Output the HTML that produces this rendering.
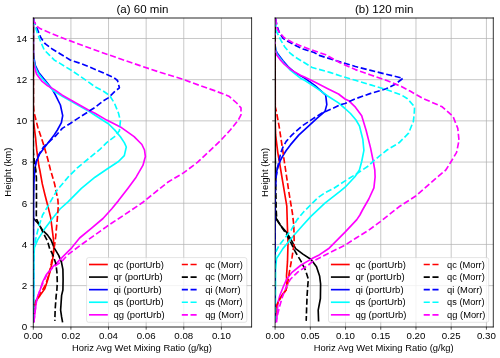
<!DOCTYPE html>
<html><head><meta charset="utf-8"><style>
html,body{margin:0;padding:0;background:#fff;}
svg{display:block;}
text{font-family:"Liberation Sans",sans-serif;fill:#000;}
svg{will-change:transform;}
</style></head><body>
<svg width="500" height="358" viewBox="0 0 500 358">
<rect width="500" height="358" fill="#fff"/>
<path d="M70.92 17.90V326.80M108.54 17.90V326.80M146.16 17.90V326.80M183.77 17.90V326.80M221.39 17.90V326.80M33.30 285.61H251.60M33.30 244.43H251.60M33.30 203.24H251.60M33.30 162.05H251.60M33.30 120.87H251.60M33.30 79.68H251.60M33.30 38.49H251.60" stroke="#b0b0b0" stroke-width="0.7" fill="none"/>
<clipPath id="c33"><rect x="33.30" y="17.90" width="218.30" height="308.90"/></clipPath>
<g fill="none" stroke-width="1.65" stroke-linejoin="round" stroke-linecap="butt" clip-path="url(#c33)">
<polyline points="33.3,18.0 33.3,115.0 33.8,123.4 35.5,137.0 36.8,150.7 38.9,166.0 39.8,170.0 42.3,183.9 45.0,195.0 47.6,205.0 50.7,217.6 52.6,232.6 53.5,240.0 53.8,251.2 52.4,261.0 50.3,270.8 47.5,280.6 44.8,288.7 40.1,295.4 36.1,300.8 34.0,307.5 33.5,315.0 33.5,322.3" stroke="#ff0000"/>
<polyline points="33.3,18.0 33.3,218.0 34.4,219.4 37.5,222.6 42.6,230.1 47.6,235.1 51.0,240.0 54.5,248.4 58.7,255.4 61.5,262.4 62.9,269.4 63.1,279.2 62.9,290.0 61.6,295.4 60.6,310.2 61.6,316.9 62.6,322.3" stroke="#000000"/>
<polyline points="33.3,18.0 33.3,50.0 33.7,56.7 35.4,65.7 38.7,72.4 43.2,78.0 47.7,83.6 52.2,89.2 55.5,95.2 60.4,105.0 62.7,115.7 61.4,122.6 57.4,130.0 53.4,136.1 45.6,145.9 39.8,153.7 35.9,162.4 34.9,169.9 34.0,180.0 33.5,200.0 33.5,322.3" stroke="#0000ff"/>
<polyline points="33.3,18.0 33.3,55.0 33.7,60.0 35.2,67.0 38.3,73.5 42.7,79.0 47.7,84.6 53.0,90.5 62.3,96.2 76.0,104.0 89.7,111.8 95.0,115.2 108.7,124.0 114.6,129.9 120.4,136.7 124.3,142.6 126.3,147.0 124.3,155.6 118.5,161.5 106.7,169.3 95.0,177.2 81.4,188.4 68.0,201.8 60.0,209.0 51.3,220.1 43.8,230.1 37.5,240.1 34.4,247.7 33.8,260.0 33.5,322.3" stroke="#00ffff"/>
<polyline points="33.3,18.0 33.3,60.0 33.7,64.6 36.5,74.1 42.1,81.4 47.7,85.8 54.4,89.6 62.3,95.2 76.0,103.0 89.7,110.8 95.0,113.2 106.7,120.1 120.4,126.9 134.1,136.7 141.9,144.5 144.5,150.0 145.4,156.6 142.9,165.4 136.1,177.2 128.2,187.9 118.5,200.6 111.8,208.7 103.0,218.5 91.3,228.3 79.6,238.0 71.7,247.8 63.9,255.7 55.9,263.8 51.0,268.7 46.1,275.0 42.6,282.0 40.1,290.0 36.7,299.4 35.4,308.8 34.0,320.9 33.8,322.3" stroke="#ff00ff"/>
<polyline points="33.3,18.0 33.3,105.0 33.9,111.7 37.8,127.3 43.7,144.9 47.6,158.5 50.5,169.9 54.6,183.9 57.9,200.0 58.3,206.2 57.2,220.0 55.7,236.4 54.6,245.0 52.9,253.4 51.3,263.4 48.8,275.2 45.4,285.2 40.4,293.6 35.4,302.0 33.8,310.0 33.5,322.3" stroke="#ff0000" stroke-dasharray="6.1 2.65"/>
<polyline points="33.3,18.0 33.3,152.0 34.5,163.0 35.8,170.0 36.4,178.0 36.5,200.0 36.3,215.0 36.8,219.5 38.8,223.8 43.8,233.9 47.6,241.4 49.6,248.4 53.1,255.4 55.9,263.8 56.9,272.2 57.3,282.0 56.9,290.0 56.2,295.4 55.2,308.8 54.8,320.9" stroke="#000000" stroke-dasharray="6.1 2.65"/>
<polyline points="33.5,19.0 34.2,21.9 36.7,27.7 40.9,37.8 45.1,43.7 51.8,48.7 60.0,53.7 70.2,60.0 81.9,63.9 103.0,72.7 113.8,77.5 117.5,80.5 119.4,87.8 114.6,91.7 108.7,97.6 103.0,101.0 95.0,107.4 89.7,110.8 76.0,119.6 70.2,123.5 62.3,128.4 55.4,136.1 43.7,146.8 38.8,154.6 36.5,161.0 34.5,168.0 33.5,176.0 33.3,190.0 33.3,322.3" stroke="#0000ff" stroke-dasharray="6.1 2.65"/>
<polyline points="33.5,19.0 34.2,22.7 37.5,33.6 41.5,43.7 44.3,50.0 49.9,55.6 54.4,60.1 60.0,63.4 72.1,70.8 87.8,81.5 95.0,86.8 102.8,90.8 109.7,95.6 114.6,103.5 118.5,113.2 120.4,121.1 119.4,130.8 114.6,136.7 106.7,142.6 99.9,149.4 90.4,157.1 77.0,168.2 68.0,177.2 56.8,190.6 47.9,206.2 42.6,215.0 38.8,226.3 36.3,236.4 34.4,245.2 33.5,255.0 33.5,322.3" stroke="#00ffff" stroke-dasharray="6.1 2.65"/>
<polyline points="33.5,18.5 33.7,20.7 36.7,26.0 40.0,28.6 60.0,37.0 80.0,44.5 100.0,51.8 120.0,58.8 140.0,65.6 160.0,72.3 182.0,79.0 199.6,85.4 215.2,90.9 228.9,96.2 236.7,103.0 241.0,107.9 241.0,114.8 238.3,120.0 230.5,129.8 220.7,140.5 210.0,150.6 197.4,162.4 183.5,172.9 168.1,182.0 154.2,193.1 142.2,202.8 124.6,214.6 107.0,226.3 93.3,236.1 79.6,245.9 67.8,254.7 62.2,261.0 55.2,265.9 51.0,269.4 46.8,275.0 43.3,282.0 40.1,290.0 36.7,299.4 35.4,308.8 34.0,320.9 34.0,322.3" stroke="#ff00ff" stroke-dasharray="6.1 2.65"/>
</g>
<path d="M33.30 17.40V327.30" stroke="#000" stroke-width="0.8" fill="none"/>
<path d="M251.60 17.40V327.30" stroke="#000" stroke-width="0.8" fill="none"/>
<path d="M32.90 18.0H252.00" stroke="#000" stroke-width="0.85" fill="none"/>
<path d="M32.90 327.0H252.00" stroke="#000" stroke-width="0.85" fill="none"/>
<path d="M33.30 326.80v2.9M70.92 326.80v2.9M108.54 326.80v2.9M146.16 326.80v2.9M183.77 326.80v2.9M221.39 326.80v2.9M33.30 326.80h-2.9M33.30 285.61h-2.9M33.30 244.43h-2.9M33.30 203.24h-2.9M33.30 162.05h-2.9M33.30 120.87h-2.9M33.30 79.68h-2.9M33.30 38.49h-2.9" stroke="#000" stroke-width="0.66" fill="none"/>
<text x="33.30" y="339.35" font-size="9.20" text-anchor="middle" textLength="18.92" lengthAdjust="spacingAndGlyphs">0.00</text>
<text x="70.92" y="339.35" font-size="9.20" text-anchor="middle" textLength="18.92" lengthAdjust="spacingAndGlyphs">0.02</text>
<text x="108.54" y="339.35" font-size="9.20" text-anchor="middle" textLength="18.92" lengthAdjust="spacingAndGlyphs">0.04</text>
<text x="146.16" y="339.35" font-size="9.20" text-anchor="middle" textLength="18.92" lengthAdjust="spacingAndGlyphs">0.06</text>
<text x="183.77" y="339.35" font-size="9.20" text-anchor="middle" textLength="18.92" lengthAdjust="spacingAndGlyphs">0.08</text>
<text x="221.39" y="339.35" font-size="9.20" text-anchor="middle" textLength="18.92" lengthAdjust="spacingAndGlyphs">0.10</text>
<text x="27.20" y="330.20" font-size="9.20" text-anchor="end" textLength="5.51" lengthAdjust="spacingAndGlyphs">0</text>
<text x="27.20" y="289.01" font-size="9.20" text-anchor="end" textLength="5.51" lengthAdjust="spacingAndGlyphs">2</text>
<text x="27.20" y="247.83" font-size="9.20" text-anchor="end" textLength="5.51" lengthAdjust="spacingAndGlyphs">4</text>
<text x="27.20" y="206.64" font-size="9.20" text-anchor="end" textLength="5.51" lengthAdjust="spacingAndGlyphs">6</text>
<text x="27.20" y="165.45" font-size="9.20" text-anchor="end" textLength="5.51" lengthAdjust="spacingAndGlyphs">8</text>
<text x="27.20" y="124.27" font-size="9.20" text-anchor="end" textLength="11.02" lengthAdjust="spacingAndGlyphs">10</text>
<text x="27.20" y="83.08" font-size="9.20" text-anchor="end" textLength="11.02" lengthAdjust="spacingAndGlyphs">12</text>
<text x="27.20" y="41.89" font-size="9.20" text-anchor="end" textLength="11.02" lengthAdjust="spacingAndGlyphs">14</text>
<text x="141.95" y="350.80" font-size="8.40" text-anchor="middle" textLength="140.00" lengthAdjust="spacingAndGlyphs">Horiz Avg Wet Mixing Ratio (g/kg)</text>
<text x="142.45" y="12.80" font-size="10.20" text-anchor="middle" textLength="51.87" lengthAdjust="spacingAndGlyphs">(a) 60 min</text>
<rect x="86.60" y="257.60" width="160.20" height="64.70" rx="2" ry="2" fill="#fff" fill-opacity="0.8" stroke="#cccccc" stroke-opacity="0.8" stroke-width="0.66"/>
<path d="M89.00 264.50H107.80" stroke="#ff0000" stroke-width="1.65"/>
<path d="M181.80 264.50H199.30" stroke="#ff0000" stroke-width="1.65" stroke-dasharray="6.1 2.65"/>
<text x="113.50" y="267.60" font-size="8.40" text-anchor="start" textLength="50.41" lengthAdjust="spacingAndGlyphs">qc (portUrb)</text>
<text x="205.20" y="267.60" font-size="8.40" text-anchor="start" textLength="37.64" lengthAdjust="spacingAndGlyphs">qc (Morr)</text>
<path d="M89.00 277.08H107.80" stroke="#000000" stroke-width="1.65"/>
<path d="M181.80 277.08H199.30" stroke="#000000" stroke-width="1.65" stroke-dasharray="6.1 2.65"/>
<text x="113.50" y="280.18" font-size="8.40" text-anchor="start" textLength="49.27" lengthAdjust="spacingAndGlyphs">qr (portUrb)</text>
<text x="205.20" y="280.18" font-size="8.40" text-anchor="start" textLength="37.64" lengthAdjust="spacingAndGlyphs">qc (Morr)</text>
<path d="M89.00 289.66H107.80" stroke="#0000ff" stroke-width="1.65"/>
<path d="M181.80 289.66H199.30" stroke="#0000ff" stroke-width="1.65" stroke-dasharray="6.1 2.65"/>
<text x="113.50" y="292.76" font-size="8.40" text-anchor="start" textLength="48.17" lengthAdjust="spacingAndGlyphs">qi (portUrb)</text>
<text x="205.20" y="292.76" font-size="8.40" text-anchor="start" textLength="35.39" lengthAdjust="spacingAndGlyphs">qi (Morr)</text>
<path d="M89.00 302.24H107.80" stroke="#00ffff" stroke-width="1.65"/>
<path d="M181.80 302.24H199.30" stroke="#00ffff" stroke-width="1.65" stroke-dasharray="6.1 2.65"/>
<text x="113.50" y="305.34" font-size="8.40" text-anchor="start" textLength="50.17" lengthAdjust="spacingAndGlyphs">qs (portUrb)</text>
<text x="205.20" y="305.34" font-size="8.40" text-anchor="start" textLength="37.40" lengthAdjust="spacingAndGlyphs">qs (Morr)</text>
<path d="M89.00 314.82H107.80" stroke="#ff00ff" stroke-width="1.65"/>
<path d="M181.80 314.82H199.30" stroke="#ff00ff" stroke-width="1.65" stroke-dasharray="6.1 2.65"/>
<text x="113.50" y="317.92" font-size="8.40" text-anchor="start" textLength="51.11" lengthAdjust="spacingAndGlyphs">qg (portUrb)</text>
<text x="205.20" y="317.92" font-size="8.40" text-anchor="start" textLength="38.34" lengthAdjust="spacingAndGlyphs">qg (Morr)</text>
<path d="M310.32 17.90V326.80M345.54 17.90V326.80M380.76 17.90V326.80M415.98 17.90V326.80M451.20 17.90V326.80M486.42 17.90V326.80M275.10 285.61H493.30M275.10 244.43H493.30M275.10 203.24H493.30M275.10 162.05H493.30M275.10 120.87H493.30M275.10 79.68H493.30M275.10 38.49H493.30" stroke="#b0b0b0" stroke-width="0.7" fill="none"/>
<clipPath id="c275"><rect x="275.10" y="17.90" width="218.20" height="308.90"/></clipPath>
<g fill="none" stroke-width="1.65" stroke-linejoin="round" stroke-linecap="butt" clip-path="url(#c275)">
<polyline points="275.1,18.0 275.3,125.0 275.6,134.7 277.8,152.6 280.1,166.0 282.3,179.4 286.8,206.2 287.4,226.4 288.0,243.2 287.5,261.4 286.5,275.9 286.8,284.0 286.1,290.0 282.7,294.1 278.7,300.8 276.7,306.1 275.5,315.0 275.3,322.3" stroke="#ff0000"/>
<polyline points="275.1,18.0 275.3,215.0 276.7,219.7 280.2,225.0 286.5,232.3 292.0,241.4 295.6,248.6 302.9,254.1 311.1,259.5 316.5,266.8 319.6,275.9 320.6,284.0 320.4,298.5 318.2,310.2 318.6,321.5" stroke="#000000"/>
<polyline points="275.1,18.0 275.1,45.0 275.8,50.0 277.5,53.5 282.8,60.5 288.0,66.5 294.6,72.4 305.0,78.4 315.1,85.6 325.7,95.1 326.8,104.6 325.0,111.4 316.9,118.4 308.5,126.1 298.7,135.1 290.4,144.9 286.2,150.5 282.7,156.1 280.6,160.0 278.5,165.5 277.0,170.0 275.6,180.0 275.1,190.0 275.1,322.3" stroke="#0000ff"/>
<polyline points="275.1,18.0 275.1,46.0 275.8,51.0 277.2,54.5 283.8,63.0 290.6,70.4 300.4,78.2 305.0,80.6 316.2,87.8 327.3,95.7 338.5,102.9 345.0,108.5 350.5,113.5 356.0,120.0 359.4,125.8 362.8,139.2 363.9,150.4 361.7,161.5 359.4,170.0 354.9,176.7 345.1,187.2 340.0,191.3 324.9,203.2 310.9,216.4 302.6,225.5 294.2,235.0 288.0,242.5 282.9,248.6 276.5,258.6 275.5,270.0 275.3,322.3" stroke="#00ffff"/>
<polyline points="275.1,18.0 275.1,48.0 275.6,52.0 276.4,54.6 279.7,59.1 284.2,64.2 290.9,69.6 300.4,75.3 305.0,77.2 316.2,82.8 327.3,88.4 338.5,94.0 345.0,99.0 349.2,101.1 355.4,107.2 361.7,115.7 366.1,130.2 370.6,148.1 373.3,161.5 374.8,170.0 375.1,177.0 373.9,187.9 368.8,199.0 362.5,210.0 359.9,215.0 356.8,219.6 345.3,231.9 336.1,241.1 328.4,248.8 319.2,254.9 312.0,258.6 301.1,265.0 292.0,272.3 286.5,279.5 282.9,287.7 280.0,295.0 278.0,302.1 276.7,320.9 276.5,322.3" stroke="#ff00ff"/>
<polyline points="275.1,18.0 275.1,106.5 276.4,111.5 279.2,126.8 281.3,140.7 283.4,154.7 284.1,160.0 285.6,170.0 289.0,192.8 292.4,213.0 293.8,225.0 294.2,243.2 292.0,257.7 289.3,272.3 287.5,285.0 286.0,290.0 282.5,295.0 278.5,301.0 276.5,306.0 275.5,315.0 275.3,322.3" stroke="#ff0000" stroke-dasharray="6.1 2.65"/>
<polyline points="275.1,18.0 275.1,150.0 275.8,190.0 276.2,210.0 276.7,219.0 281.2,226.4 286.5,234.1 291.1,243.2 295.6,252.3 301.1,261.4 305.6,270.5 308.4,279.5 307.9,284.0 307.1,295.4 306.6,308.8 306.2,320.9" stroke="#000000" stroke-dasharray="6.1 2.65"/>
<polyline points="275.6,18.5 277.0,26.0 279.5,33.0 283.1,38.4 287.6,41.2 295.0,45.2 303.0,49.0 314.1,52.5 319.2,55.4 340.0,61.9 355.4,66.5 370.7,70.4 386.1,74.2 402.9,78.3 395.3,84.2 386.1,88.8 370.7,93.4 355.4,98.8 345.0,103.5 340.8,104.6 327.3,110.8 322.5,112.8 315.5,117.0 302.9,125.4 291.8,135.1 286.2,141.4 282.7,147.7 280.6,153.3 279.2,160.0 277.5,168.0 276.0,178.0 275.1,195.0 275.1,322.3" stroke="#0000ff" stroke-dasharray="6.1 2.65"/>
<polyline points="275.6,20.7 276.7,31.9 281.2,40.8 284.8,47.0 290.1,53.1 294.6,56.7 312.2,67.5 329.8,72.4 340.0,75.7 355.4,80.3 370.7,84.9 386.1,89.5 401.4,94.9 407.5,98.8 414.6,106.8 414.2,114.0 413.4,121.2 408.6,133.2 399.0,142.8 387.0,150.0 375.0,159.6 368.4,166.0 356.3,174.0 345.1,180.9 333.9,188.2 325.0,192.8 317.9,197.6 310.9,204.6 304.0,211.5 297.0,219.9 291.4,229.7 286.5,236.0 279.3,245.0 275.6,252.3 275.3,260.0 275.3,322.3" stroke="#00ffff" stroke-dasharray="6.1 2.65"/>
<polyline points="275.6,18.5 276.7,27.4 278.0,30.5 284.2,37.8 292.0,42.3 303.0,46.8 314.7,51.0 325.8,54.8 340.0,62.7 355.4,69.6 370.7,75.0 386.1,80.3 401.4,86.5 410.0,91.1 423.0,98.4 442.2,106.8 453.0,116.4 457.8,128.4 459.0,140.4 456.6,152.4 449.4,164.4 445.8,170.0 435.0,179.2 415.8,196.0 399.0,206.8 380.0,221.9 368.3,230.4 356.1,238.0 345.3,244.9 334.6,250.3 322.3,256.4 313.1,261.1 308.4,265.0 297.5,272.3 290.2,279.5 285.6,288.6 282.0,298.0 279.8,305.9 276.1,320.6 276.0,322.3" stroke="#ff00ff" stroke-dasharray="6.1 2.65"/>
</g>
<path d="M275.10 17.40V327.30" stroke="#000" stroke-width="0.8" fill="none"/>
<path d="M493.30 17.40V327.30" stroke="#000" stroke-width="0.8" fill="none"/>
<path d="M274.70 18.0H493.70" stroke="#000" stroke-width="0.85" fill="none"/>
<path d="M274.70 327.0H493.70" stroke="#000" stroke-width="0.85" fill="none"/>
<path d="M275.10 326.80v2.9M310.32 326.80v2.9M345.54 326.80v2.9M380.76 326.80v2.9M415.98 326.80v2.9M451.20 326.80v2.9M486.42 326.80v2.9M275.10 326.80h-2.9M275.10 285.61h-2.9M275.10 244.43h-2.9M275.10 203.24h-2.9M275.10 162.05h-2.9M275.10 120.87h-2.9M275.10 79.68h-2.9M275.10 38.49h-2.9" stroke="#000" stroke-width="0.66" fill="none"/>
<text x="275.10" y="339.35" font-size="9.20" text-anchor="middle" textLength="18.92" lengthAdjust="spacingAndGlyphs">0.00</text>
<text x="310.32" y="339.35" font-size="9.20" text-anchor="middle" textLength="18.92" lengthAdjust="spacingAndGlyphs">0.05</text>
<text x="345.54" y="339.35" font-size="9.20" text-anchor="middle" textLength="18.92" lengthAdjust="spacingAndGlyphs">0.10</text>
<text x="380.76" y="339.35" font-size="9.20" text-anchor="middle" textLength="18.92" lengthAdjust="spacingAndGlyphs">0.15</text>
<text x="415.98" y="339.35" font-size="9.20" text-anchor="middle" textLength="18.92" lengthAdjust="spacingAndGlyphs">0.20</text>
<text x="451.20" y="339.35" font-size="9.20" text-anchor="middle" textLength="18.92" lengthAdjust="spacingAndGlyphs">0.25</text>
<text x="486.42" y="339.35" font-size="9.20" text-anchor="middle" textLength="18.92" lengthAdjust="spacingAndGlyphs">0.30</text>
<text x="383.70" y="350.80" font-size="8.40" text-anchor="middle" textLength="140.00" lengthAdjust="spacingAndGlyphs">Horiz Avg Wet Mixing Ratio (g/kg)</text>
<text x="384.20" y="12.80" font-size="10.20" text-anchor="middle" textLength="58.45" lengthAdjust="spacingAndGlyphs">(b) 120 min</text>
<rect x="328.50" y="257.60" width="160.20" height="64.70" rx="2" ry="2" fill="#fff" fill-opacity="0.8" stroke="#cccccc" stroke-opacity="0.8" stroke-width="0.66"/>
<path d="M330.90 264.50H349.70" stroke="#ff0000" stroke-width="1.65"/>
<path d="M423.70 264.50H441.20" stroke="#ff0000" stroke-width="1.65" stroke-dasharray="6.1 2.65"/>
<text x="355.40" y="267.60" font-size="8.40" text-anchor="start" textLength="50.41" lengthAdjust="spacingAndGlyphs">qc (portUrb)</text>
<text x="447.10" y="267.60" font-size="8.40" text-anchor="start" textLength="37.64" lengthAdjust="spacingAndGlyphs">qc (Morr)</text>
<path d="M330.90 277.08H349.70" stroke="#000000" stroke-width="1.65"/>
<path d="M423.70 277.08H441.20" stroke="#000000" stroke-width="1.65" stroke-dasharray="6.1 2.65"/>
<text x="355.40" y="280.18" font-size="8.40" text-anchor="start" textLength="49.27" lengthAdjust="spacingAndGlyphs">qr (portUrb)</text>
<text x="447.10" y="280.18" font-size="8.40" text-anchor="start" textLength="37.64" lengthAdjust="spacingAndGlyphs">qc (Morr)</text>
<path d="M330.90 289.66H349.70" stroke="#0000ff" stroke-width="1.65"/>
<path d="M423.70 289.66H441.20" stroke="#0000ff" stroke-width="1.65" stroke-dasharray="6.1 2.65"/>
<text x="355.40" y="292.76" font-size="8.40" text-anchor="start" textLength="48.17" lengthAdjust="spacingAndGlyphs">qi (portUrb)</text>
<text x="447.10" y="292.76" font-size="8.40" text-anchor="start" textLength="35.39" lengthAdjust="spacingAndGlyphs">qi (Morr)</text>
<path d="M330.90 302.24H349.70" stroke="#00ffff" stroke-width="1.65"/>
<path d="M423.70 302.24H441.20" stroke="#00ffff" stroke-width="1.65" stroke-dasharray="6.1 2.65"/>
<text x="355.40" y="305.34" font-size="8.40" text-anchor="start" textLength="50.17" lengthAdjust="spacingAndGlyphs">qs (portUrb)</text>
<text x="447.10" y="305.34" font-size="8.40" text-anchor="start" textLength="37.40" lengthAdjust="spacingAndGlyphs">qs (Morr)</text>
<path d="M330.90 314.82H349.70" stroke="#ff00ff" stroke-width="1.65"/>
<path d="M423.70 314.82H441.20" stroke="#ff00ff" stroke-width="1.65" stroke-dasharray="6.1 2.65"/>
<text x="355.40" y="317.92" font-size="8.40" text-anchor="start" textLength="51.11" lengthAdjust="spacingAndGlyphs">qg (portUrb)</text>
<text x="447.10" y="317.92" font-size="8.40" text-anchor="start" textLength="38.34" lengthAdjust="spacingAndGlyphs">qg (Morr)</text>
<text transform="translate(11.3,172.15) rotate(-90)" x="0" y="0" font-size="8.40" text-anchor="middle" textLength="49.15" lengthAdjust="spacingAndGlyphs">Height (km)</text>
<text transform="translate(268.0,172.4) rotate(-90)" x="0" y="0" font-size="8.40" text-anchor="middle" textLength="49.15" lengthAdjust="spacingAndGlyphs">Height (km)</text>
</svg>
</body></html>
